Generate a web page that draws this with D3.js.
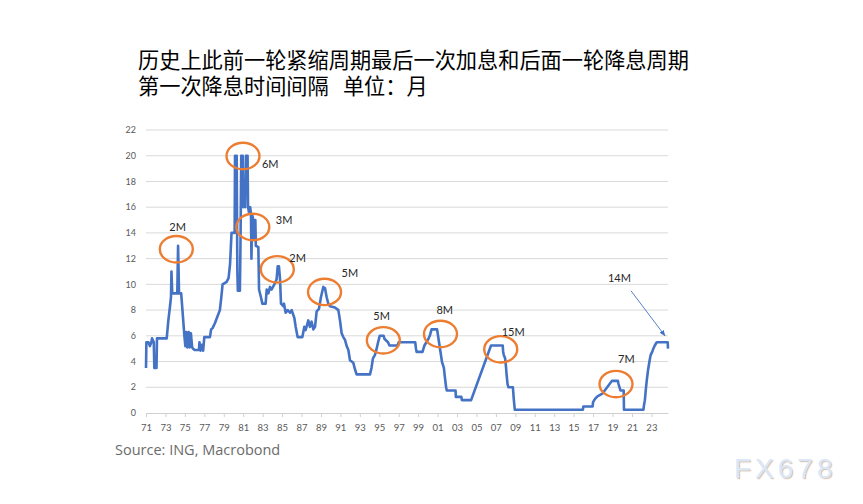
<!DOCTYPE html>
<html>
<head>
<meta charset="utf-8">
<script src="https://cdn.jsdelivr.net/npm/d3@7"></script>
<style>
  html, body { margin: 0; padding: 0; background: #ffffff; }
  svg { display: block; }
</style>
</head>
<body>
<svg id="chart" width="863" height="504"></svg>
<script>
// ---- Data (decimal year, rate %) ----
const years = [
  1971.00,1971.04,1971.25,1971.40,1971.55,1971.62,1971.80,1971.86,1971.90,1972.08,1972.13,
  1973.13,1973.30,1973.47,1973.57,1973.62,1973.70,1974.22,1974.30,1974.40,1974.62,1974.80,1974.95,1975.05,
  1975.15,1975.25,1975.40,1975.50,1975.62,1975.75,1975.85,1976.00,1976.45,1976.50,1976.60,1976.75,1976.88,1977.00,
  1977.58,1977.70,1977.85,1978.10,1978.35,1978.60,1978.75,1978.88,1979.30,1979.50,1979.65,1979.80,
  1980.12,1980.16,1980.33,1980.40,1980.45,1980.66,1980.72,1980.80,1980.95,1981.00,1981.12,1981.20,1981.28,1981.45,
  1981.50,1981.62,1981.72,1981.80,1981.85,1981.92,1982.05,1982.15,1982.25,1982.30,1982.56,1982.63,1982.83,1982.97,
  1983.31,1983.42,1983.59,1983.76,1983.93,1984.27,1984.44,1984.55,1984.68,1984.79,1984.89,1985.13,1985.20,1985.37,
  1985.58,1985.82,1985.99,1986.26,1986.40,1986.60,1987.09,1987.29,1987.43,1987.70,1987.87,1988.04,1988.22,1988.39,
  1988.56,1988.80,1989.00,1989.24,1989.42,1989.59,1989.76,1989.93,1990.44,1990.79,1990.96,1991.13,1991.30,1991.47,
  1991.65,1991.82,1991.99,1992.16,1992.33,1992.50,1992.67,
  1994.05,1994.20,1994.35,1994.55,1994.70,1994.88,1995.05,1995.45,1995.55,1995.90,1996.05,1996.90,1997.00,
  1998.70,1998.78,1998.85,1999.45,1999.55,1999.65,1999.85,2000.05,2000.20,2000.38,2000.95,2001.05,2001.15,
  2001.25,2001.35,2001.45,2001.55,2001.65,2001.72,2001.80,2001.88,2001.95,2002.85,2002.88,2003.45,2003.50,
  2004.45,2006.50,2007.70,2007.75,2007.82,2007.95,2008.05,2008.10,2008.20,2008.30,2008.75,2008.80,2008.85,2008.95,
  2015.95,2016.00,2016.95,2017.00,2017.20,2017.45,2017.95,2018.20,2018.45,2018.70,2018.95,2019.55,2019.62,
  2019.72,2019.82,2020.15,2020.18,2022.18,2022.22,2022.33,2022.42,2022.52,2022.65,2022.80,2022.92,2023.08,
  2023.20,2023.35,2023.55,2024.68,2024.71
];
const rates = [
  3.5,5.5,5.5,5.2,5.5,5.8,5.5,3.5,3.5,3.5,5.8,
  5.8,7.2,8.3,9.0,11.0,9.3,9.3,13.0,9.3,9.3,7.5,6.0,5.2,
  6.3,5.1,6.3,5.1,6.2,5.1,5.0,4.9,4.9,5.5,4.85,5.3,4.85,5.9,
  5.9,6.5,6.6,7.0,7.5,8.0,9.0,10.0,10.2,10.5,11.6,14.0,
  14.0,20.0,20.0,11.0,9.5,9.5,13.0,20.0,20.0,16.0,16.5,16.0,20.0,20.0,
  16.0,15.5,16.0,15.5,12.0,15.4,15.0,13.5,15.0,13.0,12.9,9.6,9.0,8.5,
  8.5,9.6,9.3,9.8,9.6,10.1,10.4,11.4,11.4,10.4,8.5,8.3,8.5,7.8,
  8.0,7.8,8.0,7.4,6.7,5.9,5.9,6.7,6.45,7.2,6.7,7.1,6.5,6.7,
  7.9,8.1,9.0,9.8,9.7,9.0,8.5,8.3,8.2,8.0,7.2,6.2,5.9,5.7,
  5.2,4.9,4.1,4.0,3.9,3.4,3.0,
  3.0,3.5,4.25,4.5,4.9,5.5,6.0,6.0,5.75,5.5,5.25,5.25,5.5,
  5.5,5.0,4.75,4.75,5.0,5.25,5.5,5.75,6.0,6.5,6.5,6.0,5.5,
  5.0,4.5,4.0,3.75,3.5,3.0,2.5,2.0,1.75,1.75,1.25,1.25,1.0,
  1.0,5.25,5.25,4.75,4.5,4.25,3.5,3.0,2.25,2.0,2.0,1.5,1.0,0.25,
  0.25,0.5,0.5,0.85,1.1,1.3,1.5,1.75,2.0,2.25,2.5,2.5,2.25,
  2.0,1.75,1.75,0.25,0.25,0.5,1.0,1.75,2.5,3.3,4.0,4.5,4.75,
  5.0,5.25,5.5,5.5,5.0
];

const yTicks = [0,2,4,6,8,10,12,14,16,18,20,22];
const xTicks = [1971,1973,1975,1977,1979,1981,1983,1985,1987,1989,1991,1993,1995,1997,1999,2001,2003,2005,2007,2009,2011,2013,2015,2017,2019,2021,2023];

// annotations (data coordinates of circle centres)
const annoLabels = ["2M","6M","3M","2M","5M","5M","8M","15M","7M"];
const annoYears  = [1974.12,1980.98,1981.99,1984.51,1989.37,1995.42,2001.30,2007.50,2019.36];
const annoValues = [12.73,19.98,14.46,11.17,9.41,5.65,6.14,4.95,2.25];
const arrowLabel = "14M";
const arrowYear = 2024.40, arrowValue = 6.0;

const titleLines = ["历史上此前一轮紧缩周期最后一次加息和后面一轮降息周期", "第一次降息时间间隔   单位：月"];
const sourceText = "Source: ING, Macrobond";

// ---- Layout ----
const labelOffsets = [[-7,-18],[19,12],[23,-3],[12,-7],[17,-15],[-10,-20],[-4,-20],[1,-13],[2,-21]];

const svg = d3.select("#chart");
const x = d3.scaleLinear().domain([1971, 2024.71]).range([146, 668]);
const y = d3.scaleLinear().domain([0, 22]).range([413, 130]);

const defs = svg.append("defs");
defs.append("marker").attr("id","arrow").attr("viewBox","0 0 10 10")
  .attr("refX",9).attr("refY",5).attr("markerWidth",7).attr("markerHeight",7)
  .attr("orient","auto-start-reverse")
  .append("path").attr("d","M0,1 L10,5 L0,9 z").attr("fill","#4472c4");
const f = defs.append("filter").attr("id","wm").attr("x","-10%").attr("y","-20%").attr("width","130%").attr("height","150%");
f.append("feDropShadow").attr("dx",1.2).attr("dy",1.2).attr("stdDeviation",0.6).attr("flood-color","#b59a80").attr("flood-opacity",0.55);

// title (one text element, two lines)
const title = svg.append("text")
  .attr("font-family", "'Noto Sans CJK SC', sans-serif")
  .attr("font-size", 21.2).attr("fill", "#000")
  .style("white-space","pre");
title.selectAll("tspan").data(titleLines).join("tspan")
  .attr("x", 138).attr("y", (d,i) => 68 + i*26)
  .text(d => d);

// grid
svg.append("g").selectAll("line").data(yTicks.filter(d => d > 0)).join("line")
  .attr("x1", x.range()[0]).attr("x2", x.range()[1])
  .attr("y1", d => y(d)).attr("y2", d => y(d))
  .attr("stroke", "#d9d9d9").attr("stroke-width", 1);

// y labels
svg.append("g").selectAll("text").data(yTicks).join("text")
  .attr("x", 136).attr("y", d => y(d)).attr("dy","0.35em")
  .attr("text-anchor","end").attr("font-family","Lato, 'Open Sans', sans-serif")
  .attr("font-size", 9).attr("fill","#595959").text(d => d);

// x axis
const xAxis = d3.axisBottom(x).tickValues(xTicks)
  .tickFormat(d => String(d % 100).padStart(2,"0")).tickSize(4).tickSizeOuter(0);
const gx = svg.append("g").attr("transform", `translate(0,${y(0)})`).call(xAxis);
gx.select(".domain").attr("stroke","#d0d0d0");
gx.selectAll(".tick line").attr("stroke","#d0d0d0");
gx.selectAll(".tick text").attr("fill","#595959").attr("font-size",9.5)
  .attr("font-family","Lato, 'Open Sans', sans-serif").attr("dy","1.15em");

// line
const pts = years.map((t,i) => [t, rates[i]]);
svg.append("path").datum(pts)
  .attr("fill","none").attr("stroke","#4472c4").attr("stroke-width",2.6)
  .attr("stroke-linejoin","round")
  .attr("d", d3.line().x(d => x(d[0])).y(d => y(d[1])));

// annotations
const ag = svg.append("g");
annoLabels.forEach((lab, i) => {
  const cx = x(annoYears[i]), cy = y(annoValues[i]);
  ag.append("ellipse").attr("cx",cx).attr("cy",cy).attr("rx",16.5).attr("ry",13.2)
    .attr("fill","none").attr("stroke","#ed7d31").attr("stroke-width",2.4);
  ag.append("text").attr("x", cx + labelOffsets[i][0]).attr("y", cy + labelOffsets[i][1])
    .attr("font-family","Lato, 'Open Sans', sans-serif").attr("font-size",11)
    .attr("fill","#262626").text(lab);
});
const axp = x(arrowYear), ayp = y(arrowValue);
ag.append("line").attr("x1", axp - 34).attr("y1", ayp - 45).attr("x2", axp).attr("y2", ayp)
  .attr("stroke","#4472c4").attr("stroke-width",0.9).attr("marker-end","url(#arrow)");
ag.append("text").attr("x", axp - 57).attr("y", ayp - 54)
  .attr("font-family","Lato, 'Open Sans', sans-serif").attr("font-size",11)
  .attr("fill","#262626").text(arrowLabel);

// source
svg.append("text").attr("x",115).attr("y",455)
  .attr("font-family","'Open Sans', Lato, sans-serif").attr("font-size",14.5)
  .attr("fill","#6b6b6b").text(sourceText);

// watermark
svg.append("text").attr("x",734).attr("y",478)
  .attr("font-family","'Liberation Sans', Arial, sans-serif").attr("font-size",28)
  .attr("letter-spacing",4).attr("fill","#dbe7f6").attr("filter","url(#wm)")
  .text("FX678");
</script>
</body>
</html>
